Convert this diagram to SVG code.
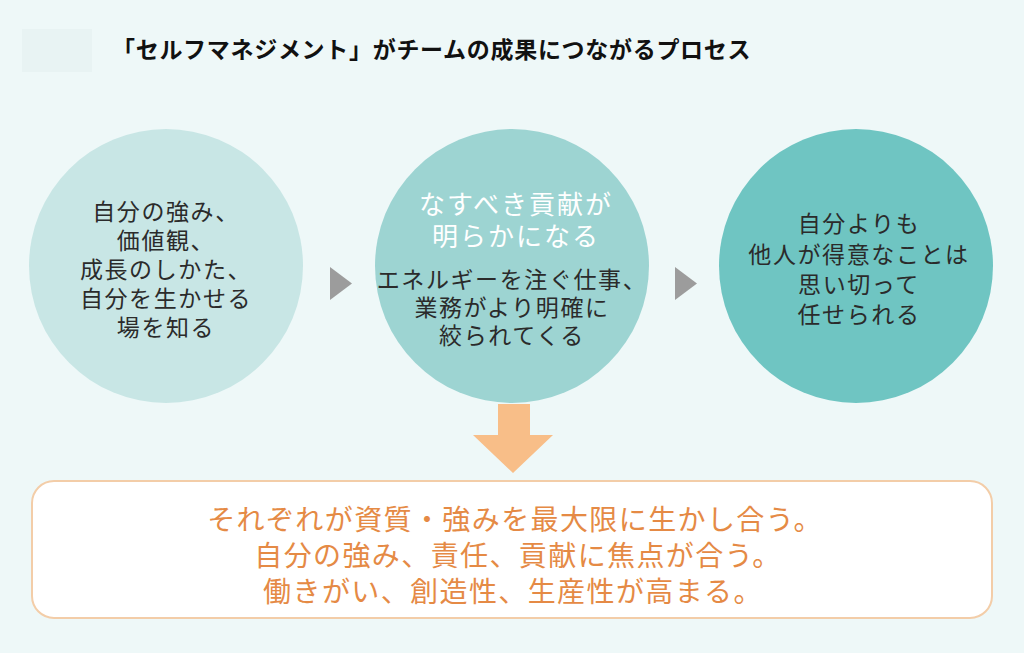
<svg xmlns="http://www.w3.org/2000/svg" width="1024" height="653" viewBox="0 0 1024 653">
<style>
.t{font-family:"Noto Sans CJK JP","Noto Sans",sans-serif;text-anchor:middle}
.dark{fill:#2b2b2b;font-size:23px;letter-spacing:1.6px}
.wh{fill:#ffffff;font-size:26px;letter-spacing:2px}
.or{fill:#e58a45;font-size:28px;letter-spacing:1.4px}
.tri{fill:#9c9c9c}
</style>
<rect x="0" y="0" width="1024" height="653" fill="#eef8f8"/>
<rect x="22" y="29" width="70" height="43" fill="#e8f3f3"/>
<text class="t" x="112" y="58" style="text-anchor:start;font-size:23px;font-weight:700;fill:#111;letter-spacing:0.7px">「セルフマネジメント」がチームの成果につながるプロセス</text>

<g id="node1">
<circle cx="166" cy="266" r="137" fill="#c8e6e5"/>
<text class="t dark" x="166" y="220">自分の強み、</text>
<text class="t dark" x="166" y="249">価値観、</text>
<text class="t dark" x="166" y="278">成長のしかた、</text>
<text class="t dark" x="166" y="307">自分を生かせる</text>
<text class="t dark" x="166" y="336">場を知る</text>
</g>

<g id="node2">
<circle cx="512" cy="266" r="137" fill="#9dd4d2"/>
<text class="t wh" x="516" y="214">なすべき貢献が</text>
<text class="t wh" x="516" y="246">明らかになる</text>
<text class="t dark" x="512" y="288">エネルギーを注ぐ仕事、</text>
<text class="t dark" x="512" y="316">業務がより明確に</text>
<text class="t dark" x="512" y="344">絞られてくる</text>
</g>

<g id="node3">
<circle cx="856" cy="266" r="137" fill="#6fc5c2"/>
<text class="t dark" x="859" y="232">自分よりも</text>
<text class="t dark" x="859" y="263">他人が得意なことは</text>
<text class="t dark" x="859" y="293">思い切って</text>
<text class="t dark" x="859" y="323">任せられる</text>
</g>

<g id="connectors">
<polygon class="tri" points="330,267 352,283.5 330,300"/>
<polygon class="tri" points="675,267 697,283.5 675,300"/>
<polygon fill="#f8be88" points="498,404 530,404 530,435 553,435 513,473 473,435 498,435"/>
</g>

<g id="result">
<rect x="32" y="481" width="960" height="137" rx="22" fill="#ffffff" stroke="#f3cda8" stroke-width="2"/>
<text class="t or" x="515" y="530">それぞれが資質・強みを最大限に生かし合う。</text>
<text class="t or" x="518" y="566">自分の強み、責任、貢献に焦点が合う。</text>
<text class="t or" x="513" y="602">働きがい、創造性、生産性が高まる。</text>
</g>
</svg>
